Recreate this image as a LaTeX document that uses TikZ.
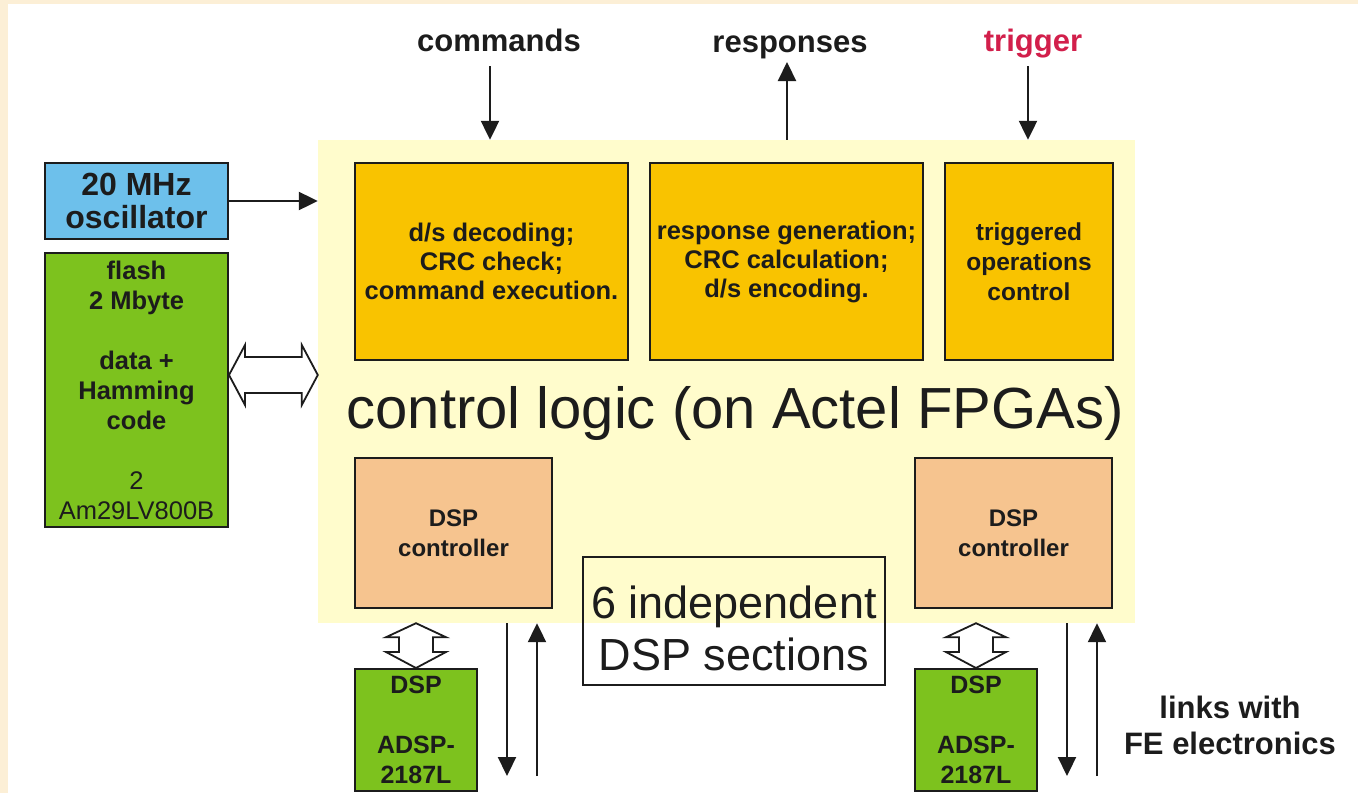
\documentclass[tikz,border=0pt]{standalone}
\usepackage{fontspec}
\setmainfont{Liberation Sans}
\usetikzlibrary{arrows.meta,calc}
\newcommand\myfs[2]{\fontsize{#1}{#2}\selectfont}
\definecolor{cream}{HTML}{FCEFD6}
\definecolor{fpgayellow}{HTML}{FFFCCC}
\definecolor{boxorange}{HTML}{F9C300}
\definecolor{oscblue}{HTML}{6DC0EB}
\definecolor{chipgreen}{HTML}{7DC21E}
\definecolor{peach}{HTML}{F6C48F}
\definecolor{trigred}{HTML}{D21F4B}
\definecolor{ink}{HTML}{1C1C1C}
\tikzset{
  blk/.style={draw=ink, line width=2pt, align=center, inner sep=0pt, text=ink},
  orangebox/.style={blk, fill=boxorange, minimum height=197pt, font=\bfseries\myfs{25.5}{29}},
  dspctl/.style={blk, fill=peach, minimum width=197pt, minimum height=150pt, font=\bfseries\myfs{24}{30}},
  dspchip/.style={blk, fill=chipgreen, minimum width=122pt, minimum height=122pt, font=\bfseries\myfs{25}{30}},
  toplabel/.style={font=\bfseries\myfs{31}{36}, text=ink, inner sep=0pt, align=center},
  sig/.style={draw=ink, line width=2.2pt, -{Triangle[length=19pt,width=18pt]}},
  hollow/.style={draw=ink, line width=1.8pt, fill=white, line join=miter}
}
\begin{document}
\begin{tikzpicture}[x=1pt,y=-1pt]
\useasboundingbox (0,0) rectangle (1358,793);
\fill[cream] (0,0) rectangle (1358,793);
\fill[white] (8,4) rectangle (1358,793);

% FPGA area
\node[fill=fpgayellow, inner sep=0pt, minimum width=817pt, minimum height=483pt] (fpga) at (726.5,381.5) {};
\node[font=\myfs{58}{60}, text=ink, inner sep=0pt] (ctl) at (735,413) {control logic (on Actel FPGAs)};

% left side
\node[blk, fill=oscblue, minimum width=183pt, minimum height=76pt, font=\bfseries\myfs{32}{33}] (osc) at (136.5,201) {20 MHz\\oscillator};
\node[blk, fill=chipgreen, minimum width=183pt, minimum height=274pt, font=\bfseries\myfs{25.5}{30}] (flash) at (136.5,390)
  {flash\\2 Mbyte\\[30pt]data +\\Hamming\\code\\[30pt]\mdseries 2\\\mdseries Am29LV800B};

% orange boxes
\node[orangebox, minimum width=273pt] (dec) at (491.5,261.5) {d/s decoding;\\CRC check;\\command execution.};
\node[orangebox, minimum width=273pt] (resp) at (786.5,261.5) {response generation;\\CRC calculation;\\d/s encoding.};
\node[orangebox, minimum width=168pt, font=\bfseries\myfs{24.5}{30}] (trig) at (1029,261.5) {triggered\\operations\\control};

% DSP controllers
\node[dspctl] (ctlA) at (453.5,533) {DSP\\controller};
\node[dspctl] (ctlB) at (1013.5,533) {DSP\\controller};

% six sections box
\node[draw=ink, line width=1.6pt, minimum width=302pt, minimum height=128pt, inner sep=0pt, align=center, text=ink] (six) at (734,621) {};
\node[font=\myfs{45}{52}, text=ink, inner sep=0pt, align=center] (sixtext) at (734,628) {6 independent\\DSP sections};

% DSP chips
\node[dspchip] (dspA) at (416,730) {DSP\\[30pt]ADSP-\\2187L};
\node[dspchip] (dspB) at (976,730) {DSP\\[30pt]ADSP-\\2187L};

% top labels
\node[toplabel, anchor=base] (cmd) at (499,51) {commands};
\node[toplabel, anchor=base] (rsp) at (790,52) {responses};
\node[toplabel, anchor=base, text=trigred] (trg) at (1033,51) {trigger};
\node[toplabel] (links) at (1230,725) {links with\\FE electronics};

% connector end points
\coordinate (cmdtop) at (490,66);
\coordinate (rsptop) at (787,62);
\coordinate (trgtop) at (1028,66);
\coordinate (aDown) at (507,776);
\coordinate (aUp) at (537,776);
\coordinate (bDown) at (1067,776);
\coordinate (bUp) at (1097,776);

% signal arrows
\draw[sig] (osc.east) -- (osc.east -| fpga.west);
\draw[sig] (cmdtop) -- (cmdtop |- fpga.north);
\draw[sig] (rsptop |- fpga.north) -- (rsptop);
\draw[sig] (trgtop) -- (trgtop |- fpga.north);
\draw[sig] (aDown |- fpga.south) -- (aDown);
\draw[sig] (aUp) -- (aUp |- fpga.south);
\draw[sig] (bDown |- fpga.south) -- (bDown);
\draw[sig] (bUp) -- (bUp |- fpga.south);

% hollow double arrow flash <-> fpga
\path (flash.east |- 0,375) coordinate (fl) (fpga.west |- 0,375) coordinate (fr);
\draw[hollow] (fl) -- ++(16,-30) -- ++(0,12) -- ($(fr)+(-16,-18)$) -- ++(0,-12) -- (fr)
  -- ++(-16,30) -- ++(0,-12) -- ($(fl)+(16,18)$) -- ++(0,12) -- cycle;

% hollow double arrows controller <-> chip
\foreach \c/\d in {ctlA/dspA, ctlB/dspB}{
  \path (\d.north |- fpga.south) coordinate (t) (\d.north) coordinate (b);
  \draw[hollow] (t) -- ++(30,14) -- ++(-13,0) -- ($(b)+(17,-16)$) -- ++(13,0) -- (b)
    -- ++(-30,-16) -- ++(13,0) -- ($(t)+(-17,14)$) -- ++(-13,0) -- cycle;
}
\end{tikzpicture}
\end{document}
